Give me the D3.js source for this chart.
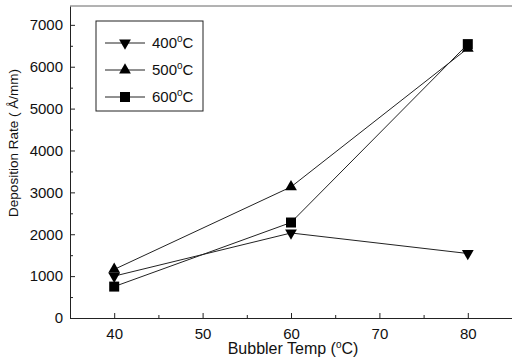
<!DOCTYPE html>
<meta charset="utf-8">
<style>
body { margin: 0; background: #fff; }
svg { font-family: "Liberation Sans", Arial, sans-serif; }
.axis path { stroke: #222; }
.axis line { stroke: #222; }
.axis text { font-size: 15px; fill: #111; font-family: "Liberation Sans", Arial, sans-serif; }
.lbl { font-size: 15px; fill: #111; }
.series { fill: none; stroke: #222; stroke-width: 1; }
</style>
<body>
<div id="chart"></div>
<script src="https://cdn.jsdelivr.net/npm/d3@7"></script>
<script>
// bubbler temperature (C)
var temps = [40, 60, 80];
// deposition rate (A/min) for each substrate temperature
var rate400 = [1000, 2030, 1540];
var rate500 = [1160, 3130, 6440];
var rate600 = [750, 2280, 6540];
var seriesNames = ["400", "500", "600"];
var xTicks = [40, 50, 60, 70, 80];
var yTicks = [0, 1000, 2000, 3000, 4000, 5000, 6000, 7000];

var W = 512, H = 363;
var margin = {top: 6, right: 0, bottom: 45, left: 70};

var svg = d3.select("#chart").append("svg")
    .attr("width", W)
    .attr("height", H);

var x = d3.scaleLinear().domain([35, 85]).range([margin.left, W - margin.right]);
var y = d3.scaleLinear().domain([0, 7450]).range([H - margin.bottom, margin.top]);

// minor ticks
svg.append("g")
    .attr("class", "axis")
    .attr("transform", "translate(0," + y(0) + ")")
    .call(d3.axisBottom(x).tickValues([45, 55, 65, 75]).tickSize(-3).tickFormat(""))
    .select(".domain").remove();
svg.append("g")
    .attr("class", "axis")
    .attr("transform", "translate(" + x(35) + ",0)")
    .call(d3.axisLeft(y).tickValues([500, 1500, 2500, 3500, 4500, 5500, 6500]).tickSize(-3).tickFormat(""))
    .select(".domain").remove();

// major axes, ticks pointing inward
svg.append("g")
    .attr("class", "axis")
    .attr("transform", "translate(0," + y(0) + ")")
    .call(d3.axisBottom(x).tickValues(xTicks).tickFormat(d3.format("d"))
      .tickSizeInner(-5).tickSizeOuter(0).tickPadding(10));
svg.append("g")
    .attr("class", "axis")
    .attr("transform", "translate(" + x(35) + ",0)")
    .call(d3.axisLeft(y).tickValues(yTicks).tickFormat(d3.format("d"))
      .tickSizeInner(-5).tickSizeOuter(0).tickPadding(7));

// top frame line
svg.append("line")
    .attr("x1", x(35)).attr("x2", x(85))
    .attr("y1", y(7450)).attr("y2", y(7450))
    .attr("stroke", "#666");

// axis titles
var xl = svg.append("text")
    .attr("class", "lbl")
    .style("font-size", "16px")
    .attr("x", 293).attr("y", 354)
    .attr("text-anchor", "middle");
xl.append("tspan").text("Bubbler Temp (");
xl.append("tspan").attr("font-size", "10px").attr("dy", "-6").text("o");
xl.append("tspan").attr("dy", "6").text("C)");

svg.append("text")
    .attr("class", "lbl")
    .style("font-size", "13.5px")
    .attr("transform", "translate(18,143) rotate(-90)")
    .attr("text-anchor", "middle")
    .text("Deposition Rate ( Å/mm)");

var series = [rate400, rate500, rate600];
var symbols = [d3.symbolTriangle, d3.symbolTriangle, d3.symbolSquare];
var rotations = [180, 0, 0];

var line = d3.line()
    .x(function(d, i) { return x(temps[i]); })
    .y(function(d) { return y(d); });

series.forEach(function(vals, k) {
  svg.append("path")
      .attr("class", "series")
      .attr("d", line(vals));
});

series.forEach(function(vals, k) {
  svg.selectAll(".pt" + k)
      .data(vals)
    .enter().append("path")
      .attr("d", d3.symbol().type(symbols[k]).size(k == 2 ? 100 : 60))
      .attr("transform", function(d, i) {
        return "translate(" + x(temps[i]) + "," + y(d) + ") rotate(" + rotations[k] + ")";
      })
      .attr("fill", "#000");
});

// legend
var leg = svg.append("g").attr("transform", "translate(96,21)");
leg.append("rect")
    .attr("width", 107).attr("height", 90)
    .attr("fill", "#fff").attr("stroke", "#222");
seriesNames.forEach(function(name, k) {
  var ly = 22 + k * 27;
  leg.append("line")
      .attr("x1", 9).attr("x2", 49)
      .attr("y1", ly).attr("y2", ly)
      .attr("stroke", "#222");
  leg.append("path")
      .attr("d", d3.symbol().type(symbols[k]).size(k == 2 ? 100 : 60))
      .attr("transform", "translate(29," + ly + ") rotate(" + rotations[k] + ")")
      .attr("fill", "#000");
  var t = leg.append("text")
      .attr("class", "lbl")
      .attr("x", 56).attr("y", ly + 5);
  t.append("tspan").text(name);
  t.append("tspan").attr("font-size", "10px").attr("dy", "-6").text("o");
  t.append("tspan").attr("dy", "6").text("C");
});
</script>
</body>
